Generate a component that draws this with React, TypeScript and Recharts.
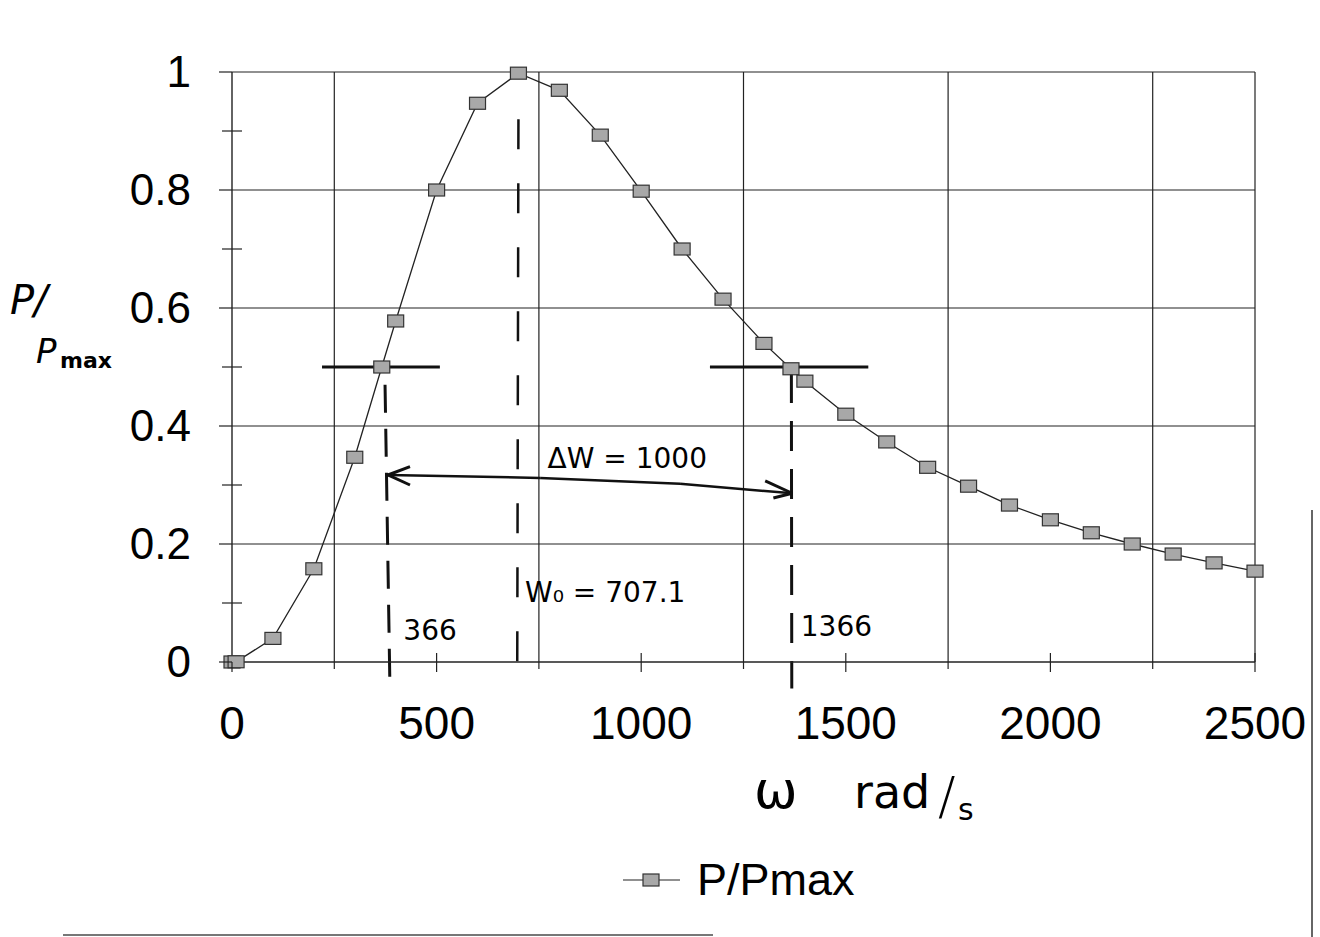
import React from "react";
import {
  LineChart,
  Line,
  XAxis,
  YAxis,
  ReferenceLine,
  ReferenceDot,
  Legend,
} from "recharts";

// angular frequency (rad/s)
const omega = [0, 10, 100, 200, 300, 366, 400, 500, 600, 700, 800, 900, 1000, 1100, 1200, 1300, 1366, 1400, 1500, 1600, 1700, 1800, 1900, 2000, 2100, 2200, 2300, 2400, 2500];
// P / Pmax
const ratio = [0, 0.0004, 0.04, 0.158, 0.347, 0.5, 0.578, 0.8, 0.947, 0.998, 0.969, 0.893, 0.798, 0.7, 0.615, 0.54, 0.497, 0.476, 0.42, 0.373, 0.33, 0.298, 0.266, 0.241, 0.219, 0.2, 0.183, 0.168, 0.154];

const xTicks = [0, 250, 500, 750, 1000, 1250, 1500, 1750, 2000, 2250, 2500];
const yTicks = [0, 0.1, 0.2, 0.3, 0.4, 0.5, 0.6, 0.7, 0.8, 0.9, 1];
const gridX = [250, 750, 1250, 1750, 2250, 2500];
const gridY = [0.2, 0.4, 0.6, 0.8, 1];

const data = omega.map((w, i) => ({ w, p: ratio[i] }));

const FONT = "'Liberation Sans', Arial, sans-serif";
const HAND = "'DejaVu Sans', sans-serif";

const XTick = (props: any) => {
  const { x, y, payload } = props;
  const v = payload.value;
  const labelled = v % 500 === 0;
  return (
    <g>
      {labelled ? (
        <line x1={x} x2={x} y1={v === 0 ? y : y - 9} y2={y + 10} stroke="#222" strokeWidth={1.2} />
      ) : (
        <line x1={x} x2={x} y1={y} y2={y + 7} stroke="#222" strokeWidth={1.2} />
      )}
      {labelled && (
        <text x={x} y={y + 77} textAnchor="middle" fontSize={46} fontFamily={FONT} fill="#000">
          {v}
        </text>
      )}
    </g>
  );
};

const YTick = (props: any) => {
  const { x, y, payload } = props;
  const v = payload.value;
  const major = Math.round(v * 10) % 2 === 0;
  return (
    <g>
      {major ? (
        <line x1={x - 13} x2={x} y1={y} y2={y} stroke="#222" strokeWidth={1.2} />
      ) : (
        <line x1={x - 10} x2={x + 10} y1={y} y2={y} stroke="#222" strokeWidth={1.2} />
      )}
      {major && (
        <text x={x - 41} y={y + 15} textAnchor="end" fontSize={44} fontFamily={FONT} fill="#000">
          {String(Math.round(v * 10) / 10)}
        </text>
      )}
    </g>
  );
};

const Marker = (props: any) => {
  const { cx, cy } = props;
  if (cx == null || cy == null) return null;
  return <rect x={cx - 8} y={cy - 6} width={16} height={12} fill="#a8a8a8" stroke="#333" strokeWidth={1.2} />;
};

const LegendContent = () => (
  <div style={{ position: "relative", width: 1304, height: 50 }}>
    <svg width={70} height={50} style={{ position: "absolute", left: 614, top: 0 }}>
      <line x1={1} x2={58} y1={25} y2={25} stroke="#222" strokeWidth={1.2} />
      <rect x={21} y={19} width={16} height={12} fill="#a8a8a8" stroke="#333" strokeWidth={1.2} />
    </svg>
    <div
      style={{
        position: "absolute",
        left: 689,
        top: 0,
        fontFamily: FONT,
        fontSize: 45,
        lineHeight: "50px",
        color: "#000",
      }}
    >
      P/Pmax
    </div>
  </div>
);

const YLabel = () => (
  <g fontFamily={HAND} fill="#000">
    <text x={2} y={306} fontSize={40} fontStyle="italic">P/</text>
    <text x={28} y={355} fontSize={34} fontStyle="italic">P</text>
    <text x={52} y={360} fontSize={22} fontWeight="bold">max</text>
  </g>
);

const XLabel = () => (
  <g fontFamily={HAND} fill="#000">
    <text x={746} y={800} fontSize={52}>ω</text>
    <text x={846} y={800} fontSize={46}>rad</text>
    <text x={930} y={806} fontSize={52} fontWeight={300}>/</text>
    <text x={950} y={812} fontSize={30}>s</text>
  </g>
);

const dash = (x1: number, y1: number, x2: number, y2: number, key: string, da?: string, w = 3) => (
  <ReferenceLine
    key={key}
    segment={[{ x: x1, y: y1 }, { x: x2, y: y2 }]}
    stroke="#111"
    strokeWidth={w}
    strokeDasharray={da}
    ifOverflow="visible"
  />
);

const note = (x: number, y: number, value: string, size: number, key: string) => (
  <ReferenceDot
    key={key}
    x={x}
    y={y}
    r={0}
    fill="none"
    stroke="none"
    ifOverflow="visible"
    label={{ value, position: "center", fontSize: size, fontFamily: HAND, fill: "#000" }}
  />
);

export default function App() {
  return (
    <div style={{ position: "relative", width: 1304, height: 921 }}>
      <LineChart width={1304} height={921} data={data} margin={{ top: 64, right: 57, bottom: 24, left: 0 }}>
        <XAxis
          dataKey="w"
          type="number"
          domain={[0, 2500]}
          ticks={xTicks}
          tick={<XTick />}
          tickLine={false}
          tickSize={0}
          tickMargin={0}
          height={193}
          axisLine={{ stroke: "#222", strokeWidth: 1.4 }}
          interval={0}
        />
        <YAxis
          type="number"
          domain={[0, 1]}
          ticks={yTicks}
          tick={<YTick />}
          tickLine={false}
          tickSize={0}
          tickMargin={0}
          width={224}
          axisLine={{ stroke: "#222", strokeWidth: 1.4 }}
          interval={0}
        />
        {gridX.map((v) => (
          <ReferenceLine key={"gx" + v} x={v} stroke="#222" strokeWidth={1.2} />
        ))}
        {gridY.map((v) => (
          <ReferenceLine key={"gy" + v} y={v} stroke="#222" strokeWidth={1.2} />
        ))}
        {/* half-power bars */}
        {dash(220, 0.5, 508, 0.5, "hb1", undefined, 3)}
        {dash(1168, 0.5, 1555, 0.5, "hb2", undefined, 3)}
        {/* dashed verticals */}
        {dash(374, 0.47, 386, -0.045, "v1", "28 16", 3)}
        {dash(700, 0.92, 697, -0.03, "v2", "30 34", 2.5)}
        {dash(1367, 0.49, 1368, -0.045, "v3", "30 18", 3)}
        {/* double arrow */}
        {dash(381, 0.317, 753, 0.312, "a1", undefined, 2.5)}
        {dash(753, 0.312, 1095, 0.302, "a2", undefined, 2.5)}
        {dash(1095, 0.302, 1369, 0.286, "a3", undefined, 2.5)}
        {dash(381, 0.317, 435, 0.331, "ah1", undefined, 3)}
        {dash(381, 0.317, 435, 0.3, "ah2", undefined, 3)}
        {dash(1369, 0.286, 1303, 0.307, "ah3", undefined, 3)}
        {dash(1369, 0.286, 1323, 0.278, "ah4", undefined, 3)}
        {note(966, 0.346, "ΔW = 1000", 28, "n1")}
        {note(912, 0.119, "W₀ = 707.1", 28, "n2")}
        {note(484, 0.054, "366", 28, "n3")}
        {note(1477, 0.061, "1366", 28, "n4")}
        <Line
          dataKey="p"
          type="linear"
          stroke="#222"
          strokeWidth={1.3}
          dot={<Marker />}
          activeDot={false}
          isAnimationActive={false}
        />
        <Legend verticalAlign="bottom" content={<LegendContent />} wrapperStyle={{ left: 0, width: 1304 }} />
      </LineChart>
      <svg width={1304} height={921} style={{ position: "absolute", left: 0, top: 0, pointerEvents: "none" }}>
        <YLabel />
        <XLabel />
      </svg>
      <div style={{ position: "fixed", left: 63, top: 934, width: 650, height: 2, background: "#777" }} />
      <div style={{ position: "fixed", left: 1311, top: 510, width: 2, height: 427, background: "#666" }} />
    </div>
  );
}
